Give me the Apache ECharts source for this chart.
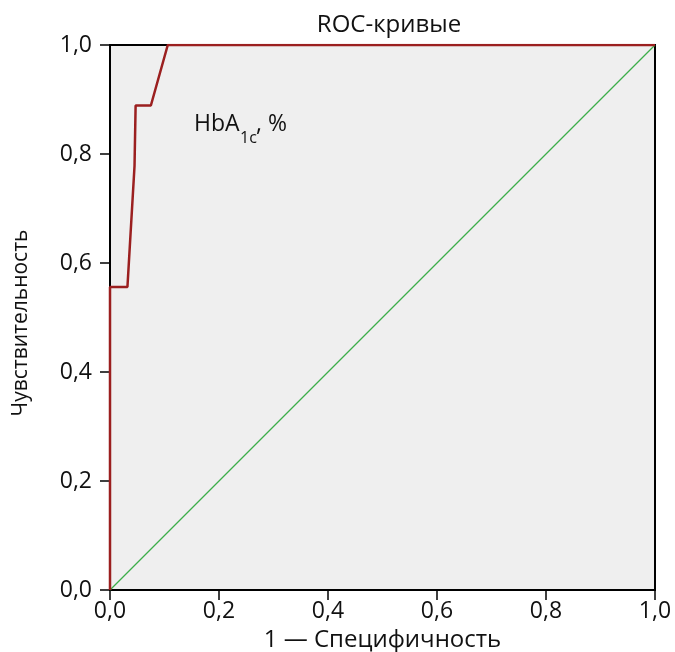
<!DOCTYPE html>
<html><head><meta charset="utf-8">
<script src="https://cdn.jsdelivr.net/npm/echarts@6/dist/echarts.min.js"></script>
<style>html,body{margin:0;padding:0;background:#fff}#c{width:675px;height:652px}</style>
</head><body><div id="c"></div>
<script>
const rocX = [0, 0, 0.032, 0.045, 0.047, 0.075, 0.106, 1.0];
const rocY = [0, 0.556, 0.556, 0.778, 0.889, 0.889, 1.0, 1.0];
const refX = [0, 1];
const refY = [0, 1];
const FONT = 'Open Sans';
const fmt = v => v.toFixed(1).replace('.', ',');
const chart = echarts.init(document.getElementById('c'));
chart.setOption({
  animation: false,
  textStyle: {fontFamily: FONT},
  title: {text: 'ROC-кривые', left: 384, textAlign: 'center', top: 8,
    textStyle: {fontFamily: FONT, fontSize: 24, fontWeight: 'normal', color: '#111'}},
  grid: {left: 110, right: 20, top: 45, bottom: 62, show: true, backgroundColor: '#efefef',
    borderColor: '#000', borderWidth: 2, containLabel: false, outerBoundsMode: 'none'},
  xAxis: {type: 'value', min: 0, max: 1, interval: 0.2,
    name: '1 — Специфичность', nameLocation: 'middle', nameGap: 38,
    nameTextStyle: {fontFamily: FONT, fontSize: 24, color: '#111'},
    axisLine: {show: true, lineStyle: {color: '#000', width: 2}},
    axisTick: {show: true, length: 10, lineStyle: {color: '#000', width: 1.5}},
    axisLabel: {formatter: fmt, fontFamily: FONT, fontSize: 23, color: '#111', margin: 10},
    splitLine: {show: false}},
  yAxis: {type: 'value', min: 0, max: 1, interval: 0.2,
    axisLine: {show: true, lineStyle: {color: '#000', width: 2}},
    axisTick: {show: true, length: 10, lineStyle: {color: '#000', width: 1.5}},
    axisLabel: {formatter: fmt, fontFamily: FONT, fontSize: 23, color: '#111', margin: 18},
    splitLine: {show: false}},
  series: [
    {type: 'line', data: refX.map((x, i) => [x, refY[i]]), showSymbol: false,
      lineStyle: {color: '#3cae4a', width: 1.3}, silent: true},
    {type: 'line', data: rocX.map((x, i) => [x, rocY[i]]), showSymbol: false,
      lineStyle: {color: '#9b1f1f', width: 2.5}, silent: true}
  ],
  graphic: [
    {type: 'text', x: 21, y: 323, rotation: Math.PI / 2,
      style: {text: 'Чувствительность', font: '21px "Open Sans"', fill: '#111', align: 'center', verticalAlign: 'middle'}},
    {type: 'text', style: {x: 194, y: 124, text: 'HbA', font: '23px "Open Sans"', fill: '#111', align: 'left', verticalAlign: 'middle'}},
    {type: 'text', style: {x: 240, y: 138, text: '1c', font: '16px "Open Sans"', fill: '#111', align: 'left', verticalAlign: 'middle'}},
    {type: 'text', style: {x: 256, y: 124, text: ', %', font: '23px "Open Sans"', fill: '#111', align: 'left', verticalAlign: 'middle'}}
  ]
});
</script></body></html>
